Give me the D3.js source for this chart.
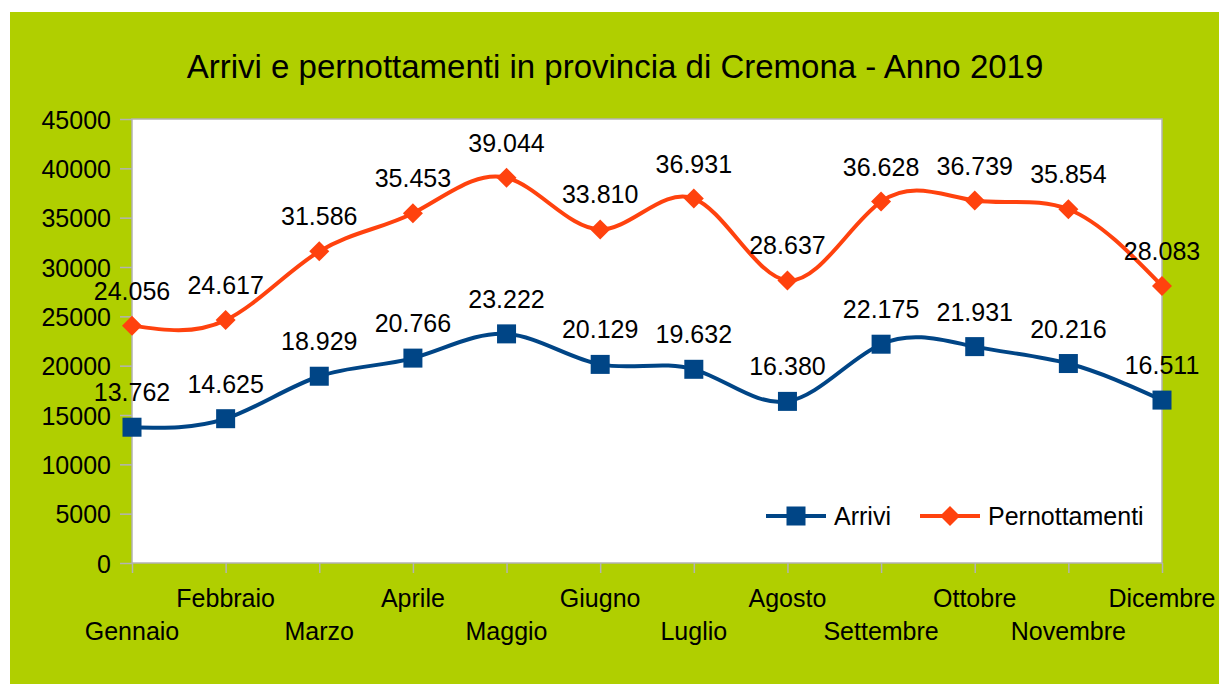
<!DOCTYPE html>
<html><head><meta charset="utf-8">
<script src="https://cdn.jsdelivr.net/npm/d3@7"></script>
<style>body{margin:0;background:#fff}svg{display:block}text{font-family:"Liberation Sans",Arial,sans-serif;fill:#000}</style>
</head><body><svg id="c" width="1219" height="684"></svg>
<script>
const months = ["Gennaio","Febbraio","Marzo","Aprile","Maggio","Giugno","Luglio","Agosto","Settembre","Ottobre","Novembre","Dicembre"];
const arrivi = [13762,14625,18929,20766,23222,20129,19632,16380,22175,21931,20216,16511];
const pernottamenti = [24056,24617,31586,35453,39044,33810,36931,28637,36628,36739,35854,28083];
const yTicks = [0,5000,10000,15000,20000,25000,30000,35000,40000,45000];
const title = "Arrivi e pernottamenti in provincia di Cremona - Anno 2019";

const FS = 25;
const svg = d3.select("#c");
svg.append("rect").attr("x",10).attr("y",12).attr("width",1209).attr("height",672).attr("fill","#b0cf00");
const L=132,R=1162,T=119,B=563;
const x = d3.scalePoint().domain(months).range([L,R]);
const y = d3.scaleLinear().domain([0,45000]).range([B,T]);
svg.append("rect").attr("x",L).attr("y",T).attr("width",R-L).attr("height",B-T).attr("fill","#fff").attr("stroke","#b3b3b3").attr("stroke-width",1.5);
svg.append("text").attr("x",615).attr("y",78).attr("text-anchor","middle").attr("font-size",33).text(title);

// y axis
const ya = svg.append("g").attr("transform",`translate(${L},0)`).call(d3.axisLeft(y).tickValues(yTicks).tickSize(12).tickPadding(9).tickFormat(d3.format("d")));
ya.select(".domain").remove();
ya.selectAll("line").attr("stroke","#b3b3b3").attr("stroke-width",1.5);
ya.selectAll("text").attr("font-size",FS).attr("font-family","Liberation Sans, Arial, sans-serif").attr("dy","0.36em");
// x axis
const xa = svg.append("g").attr("transform",`translate(0,${B})`).call(d3.axisBottom(x).tickSize(10).tickFormat(""));
xa.select(".domain").remove();
xa.selectAll("line").attr("stroke","#b3b3b3").attr("stroke-width",1.5);
svg.append("g").selectAll("text").data(months).join("text")
  .attr("x",d=>x(d)).attr("y",(d,i)=>i%2===1?607:640).attr("text-anchor","middle").attr("font-size",FS).text(d=>d);

const loc = d3.formatLocale({decimal:",",thousands:".",grouping:[3],currency:["€",""]});
const fmt = loc.format(",d");
const series = [
  {name:"Arrivi",vals:arrivi,color:"#004586",shape:"square"},
  {name:"Pernottamenti",vals:pernottamenti,color:"#ff420e",shape:"diamond"}
];
const line = d3.line().x((d,i)=>x(months[i])).y(d=>y(d)).curve(d3.curveNatural);
function marker(g,shape,color,cx,cy){
  if(shape==="square") g.append("rect").attr("x",cx-9.5).attr("y",cy-9.5).attr("width",19).attr("height",19).attr("fill",color);
  else g.append("path").attr("d",`M${cx},${cy-10}L${cx+10},${cy}L${cx},${cy+10}L${cx-10},${cy}Z`).attr("fill",color);
}
series.forEach(s=>{
  svg.append("path").attr("d",line(s.vals)).attr("fill","none").attr("stroke",s.color).attr("stroke-width",4);
  const g = svg.append("g");
  s.vals.forEach((v,i)=>marker(g,s.shape,s.color,x(months[i]),y(v)));
  svg.append("g").selectAll("text").data(s.vals).join("text")
    .attr("x",(d,i)=>x(months[i])).attr("y",d=>y(d)-26).attr("text-anchor","middle").attr("font-size",FS).text(d=>fmt(d));
});
// legend
const lg = svg.append("g");
[{s:series[0],x0:766},{s:series[1],x0:920}].forEach(o=>{
  lg.append("line").attr("x1",o.x0).attr("x2",o.x0+60).attr("y1",516).attr("y2",516).attr("stroke",o.s.color).attr("stroke-width",4);
  marker(lg,o.s.shape,o.s.color,o.x0+30,516);
  lg.append("text").attr("x",o.x0+68).attr("y",525).attr("font-size",FS).text(o.s.name);
});
</script></body></html>
